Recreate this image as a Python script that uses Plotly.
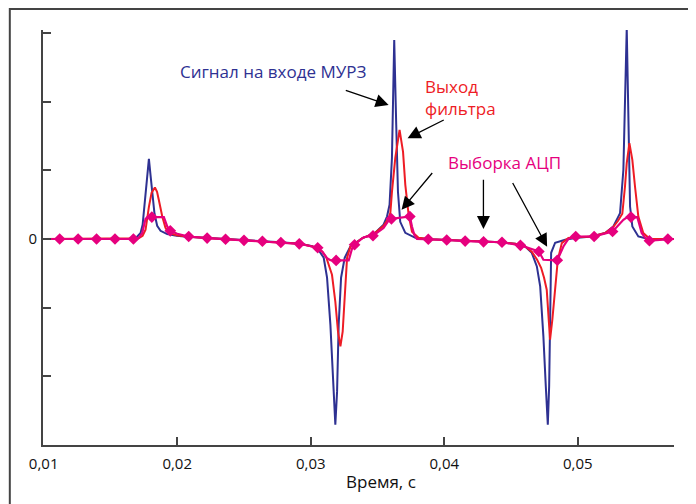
import plotly.graph_objects as go

# ---- data (time in ms, amplitude in relative units; 1 unit = one y tick) ----
signal_t = [10.0, 16.51, 16.96, 17.26, 17.41, 17.56, 17.70, 17.88, 18.00, 18.15, 18.30, 18.50, 18.75,
            19.25, 19.95, 20.75, 22.19, 24.96, 27.73, 29.22, 30.12, 30.57, 30.97, 31.22, 31.47, 31.71,
            31.84, 31.97, 32.09, 32.27, 32.54, 32.96, 33.84, 34.83, 35.45, 35.71, 35.90, 36.08, 36.25,
            36.40, 36.53, 36.70, 37.08, 37.83, 38.95, 41.57, 44.19, 45.31, 46.06, 46.55, 46.93, 47.18,
            47.42, 47.60, 47.75, 47.85, 47.92, 48.00, 48.30, 49.05, 49.79, 51.04, 52.04, 52.66, 53.16,
            53.41, 53.66, 53.78, 53.91, 54.08, 54.53, 55.28, 57.2]
signal_v = [0.0, 0.003, 0.025, 0.090, 0.207, 0.498, 0.861, 1.167, 0.934, 0.599, 0.367, 0.192, 0.119,
            0.071, 0.047, 0.032, 0.013, -0.016, -0.048, -0.070, -0.106, -0.157, -0.273, -0.564, -1.248, -2.223,
            -2.703, -2.223, -1.248, -0.564, -0.273, -0.113, 0.010, 0.090, 0.207, 0.327, 0.498, 1.182, 2.898,
            1.661, 0.687, 0.250, 0.090, 0.017, -0.004, -0.026, -0.048, -0.070, -0.109, -0.201, -0.400, -0.691,
            -1.418, -2.146, -2.703, -2.146, -1.175, -0.201, -0.055, -0.012, 0.013, 0.036, 0.086, 0.182, 0.377,
            1.007, 3.068, 1.734, 0.473, 0.182, 0.036, 0.0, 0.0]

filter_t = [10.0, 17.11, 17.41, 17.63, 17.88, 18.08, 18.33, 18.49, 18.62, 18.88, 19.12, 19.37, 19.95,
            20.85, 22.19, 24.96, 27.73, 29.22, 30.34, 30.87, 31.17, 31.39, 31.59, 31.84, 32.04, 32.22,
            32.39, 32.54, 32.72, 32.96, 33.84, 34.83, 35.45, 35.81, 35.96, 36.08, 36.33, 36.65, 36.91,
            37.08, 37.33, 37.58, 38.07, 38.95, 41.57, 44.19, 45.31, 46.06, 46.55, 46.95, 47.25, 47.47,
            47.67, 47.79, 47.92, 48.09, 48.30, 48.50, 48.80, 49.29, 49.79, 51.04, 52.04, 52.66, 53.01,
            53.33, 53.53, 53.66, 53.86, 54.08, 54.28, 54.53, 54.90, 55.40, 57.2]
filter_v = [0.0, 0.010, 0.047, 0.134, 0.468, 0.672, 0.749, 0.687, 0.570, 0.327, 0.163, 0.090, 0.054,
            0.032, 0.013, -0.016, -0.048, -0.070, -0.121, -0.186, -0.273, -0.390, -0.521, -0.914, -1.350, -1.564,
            -1.350, -0.855, -0.273, -0.113, 0.010, 0.090, 0.192, 0.294, 0.381, 0.687, 1.182, 1.589, 1.269,
            0.789, 0.352, 0.105, 0.017, -0.004, -0.026, -0.048, -0.070, -0.109, -0.186, -0.303, -0.419, -0.564,
            -0.739, -1.175, -1.466, -1.175, -0.695, -0.303, -0.060, 0.013, 0.025, 0.036, 0.086, 0.177, 0.265,
            0.367, 0.764, 1.104, 1.395, 1.152, 0.764, 0.327, 0.086, 0.0, 0.0]

# ADC sample points (markers)
adc_t = [11.20, 12.58, 13.96, 15.34, 16.72, 18.10, 19.48, 20.86, 22.24, 23.62, 25.00, 26.38, 27.76,
         29.14, 30.52, 31.90, 33.28, 34.66, 36.04, 37.42, 38.80, 40.18, 41.56, 42.94, 44.32, 45.70,
         47.08, 48.46, 49.84, 51.22, 52.60, 53.98, 55.36, 56.74]
adc_v = [0.0, 0.0, 0.0, 0.0, 0.0, 0.319, 0.119, 0.036, 0.013, -0.004, -0.019, -0.033, -0.051,
         -0.070, -0.128, -0.313, -0.084, 0.047, 0.294, 0.327, -0.004, -0.015, -0.031, -0.041, -0.048, -0.092,
         -0.182, -0.310, 0.036, 0.036, 0.109, 0.319, -0.026, 0.0]

# ADC output line (held / smoothed between samples)
adcline_t = [10.0, 16.72, 17.11, 17.38, 17.63, 17.78, 18.10, 19.00, 19.25, 19.48, 20.00, 20.86, 22.24,
             23.62, 25.00, 26.38, 27.76, 29.14, 30.52, 30.87, 31.22, 31.47, 31.90, 32.84, 33.09, 33.28,
             33.96, 34.66, 35.45, 35.81, 36.04, 37.32, 37.42, 37.58, 37.75, 37.95, 38.80, 40.18, 41.56,
             42.94, 44.32, 45.70, 47.08, 47.42, 48.46, 48.92, 49.29, 49.84, 51.22, 52.60, 53.41, 53.68,
             53.98, 54.45, 54.78, 55.16, 55.36, 56.74, 57.2]
adcline_v = [0.0, 0.0, 0.017, 0.086, 0.294, 0.319, 0.319, 0.319, 0.182, 0.119, 0.076, 0.036, 0.013,
             -0.004, -0.019, -0.033, -0.051, -0.070, -0.128, -0.186, -0.278, -0.310, -0.313, -0.313, -0.143, -0.084,
             0.025, 0.047, 0.159, 0.265, 0.294, 0.327, 0.327, 0.182, 0.061, 0.0, -0.004, -0.015, -0.031,
             -0.041, -0.048, -0.092, -0.182, -0.303, -0.310, -0.109, 0.0, 0.036, 0.036, 0.109, 0.279, 0.316,
             0.319, 0.319, 0.086, -0.012, -0.026, 0.0, 0.0]

x_ticks = [0.01, 0.02, 0.03, 0.04, 0.05]
y_ticks = [-2, -1, 0, 1, 2, 3]
y_ticktext = ["", "", "0", "", "", ""]

BLUE = "#2e3192"
RED = "#ee1c25"
MAGENTA = "#e6007e"

s = lambda arr: [v / 1000.0 for v in arr]

fig = go.Figure()
fig.add_trace(go.Scatter(x=s(signal_t), y=signal_v, mode="lines",
                         line=dict(color=BLUE, width=2), name="signal"))
fig.add_trace(go.Scatter(x=s(filter_t), y=filter_v, mode="lines",
                         line=dict(color=RED, width=2), name="filter"))
fig.add_trace(go.Scatter(x=s(adcline_t), y=adcline_v, mode="lines",
                         line=dict(color=MAGENTA, width=2.2), name="adc line"))
fig.add_trace(go.Scatter(x=s(adc_t), y=adc_v, mode="markers",
                         marker=dict(color=MAGENTA, symbol="diamond", size=9), name="adc"))

TXT = "Open Sans"
annotations = [
    dict(x=0.02717, y=2.432, xref="x", yref="y", text="Сигнал на входе МУРЗ", showarrow=False,
         font=dict(family=TXT, size=17, color=BLUE), xanchor="center", yanchor="middle"),
    dict(x=0.03842, y=2.054, xref="x", yref="y", text="Выход<br>фильтра", showarrow=False,
         font=dict(family=TXT, size=17, color=RED), xanchor="left", yanchor="middle", align="left"),
    dict(x=0.04014, y=1.109, xref="x", yref="y", text="Выборка АЦП", showarrow=False,
         font=dict(family=TXT, size=17, color=MAGENTA), xanchor="left", yanchor="middle"),
    dict(x=0.535, y=-0.089, xref="paper", yref="paper", text="Время, с", showarrow=False,
         font=dict(family=TXT, size=17, color="#111"), xanchor="center", yanchor="middle"),
]
arrows = [
    ((0.03583, 1.952), (0.03251, 2.171)),
    ((0.03725, 1.468), (0.04007, 1.743)),
    ((0.03680, 0.425), (0.03919, 0.982)),
    ((0.04293, 0.144), (0.04293, 0.886)),
    ((0.04770, -0.113), (0.04506, 0.836)),
]
for (tx, ty), (sx, sy) in arrows:
    annotations.append(dict(x=tx, y=ty, ax=sx, ay=sy, xref="x", yref="y", axref="x", ayref="y",
                            text="", showarrow=True, arrowhead=2, arrowsize=2.0, arrowwidth=1.3,
                            arrowcolor="#000"))

fig.update_layout(
    width=696, height=504,
    margin=dict(l=34.5, r=30, t=22, b=67),
    paper_bgcolor="white", plot_bgcolor="white",
    showlegend=False,
    separators=", ",
    font=dict(family=TXT, size=15, color="#111"),
    annotations=annotations,
    shapes=[dict(type="rect", xref="paper", yref="paper", x0=-0.0526, x1=1.0296, y0=-0.2, y1=1.0506,
                 line=dict(color="#444", width=2), fillcolor="rgba(0,0,0,0)", layer="below")],
)
fig.update_xaxes(range=[0.00995, 0.0572], tickvals=x_ticks, tickformat=".2f",
                 showline=True, linecolor="#444", linewidth=2, mirror=False,
                 ticks="inside", ticklen=8, tickwidth=1.5, tickcolor="#444",
                 showgrid=False, zeroline=False, ticklabelstandoff=4)
fig.update_yaxes(range=[-3.0, 3.043], tickvals=y_ticks, ticktext=y_ticktext,
                 showline=True, linecolor="#444", linewidth=2,
                 ticks="inside", ticklen=8, tickwidth=1.5, tickcolor="#444",
                 showgrid=False, zeroline=False, ticklabelstandoff=1)

fig.write_html("out.html")
